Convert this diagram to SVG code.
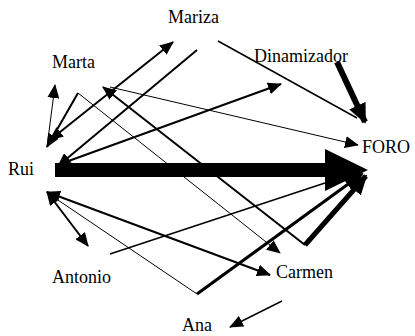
<svg xmlns="http://www.w3.org/2000/svg" width="415" height="336" viewBox="0 0 415 336">
<defs>
<style>
line{stroke:#000;fill:none}
.t1{stroke-width:1}
.t15{stroke-width:1.5}
.t2{stroke-width:2}
.t3{stroke-width:3}
.t5{stroke-width:5}
.t6{stroke-width:6}
.e{marker-end:url(#a)}
.b{marker-start:url(#a);marker-end:url(#a)}
.m{marker-end:url(#m)}
</style>
<marker id="a" viewBox="0 0 14 12" refX="13" refY="6" markerWidth="14" markerHeight="12" markerUnits="userSpaceOnUse" orient="auto-start-reverse">
<path d="M0,0 L14,6 L0,12 z" fill="#000"/>
</marker>
<marker id="m" viewBox="0 0 20 18" refX="18" refY="9" markerWidth="20" markerHeight="18" markerUnits="userSpaceOnUse" orient="auto">
<path d="M0,0 L20,9 L0,18 z" fill="#000"/>
</marker>
</defs>
<rect width="415" height="336" fill="#fff"/>
<g id="connectors">
<polygon points="55,163 325,163 325,149 368,170 325,191 325,177 55,177" fill="#000"/>
<line class="t6 m" x1="337" y1="62" x2="365" y2="122"/>
<line class="t15" x1="218" y1="41" x2="357" y2="118"/>
<line class="t2 e" x1="197" y1="50" x2="58" y2="166"/>
<line class="t2 b" x1="50" y1="140" x2="173" y2="42"/>
<line class="t1 e" x1="47" y1="147" x2="55" y2="85"/>
<line class="t2 e" x1="78" y1="93" x2="47" y2="147"/>
<line class="t1 e" x1="78" y1="93" x2="280" y2="253"/>
<line class="t2 e" x1="305" y1="245" x2="103" y2="87"/>
<line class="t1 e" x1="110" y1="87" x2="358" y2="145"/>
<line class="t2 e" x1="63" y1="163" x2="281" y2="84"/>
<line class="t5 m" x1="305" y1="245" x2="366" y2="176"/>
<line class="t3 m" x1="197" y1="294" x2="362" y2="174"/>
<line class="t15" x1="110" y1="254" x2="325" y2="183"/>
<line class="t1" x1="197" y1="294" x2="55" y2="198"/>
<line class="t2 b" x1="47" y1="192" x2="270" y2="275"/>
<line class="t2 b" x1="47" y1="192" x2="88" y2="246"/>
<line class="t15 e" x1="282" y1="301" x2="230" y2="327"/>
</g>
<g font-family="'Liberation Serif', 'DejaVu Serif', serif" font-size="18" fill="#000">
<g id="mariza"><text x="168" y="23">Mariza</text></g>
<g id="marta"><text x="52" y="68">Marta</text></g>
<g id="dinamizador"><text x="254" y="62">Dinamizador</text></g>
<g id="foro"><text x="362" y="153">FORO</text></g>
<g id="rui"><text x="8" y="175">Rui</text></g>
<g id="antonio"><text x="52" y="283">Antonio</text></g>
<g id="carmen"><text x="276" y="278">Carmen</text></g>
<g id="ana"><text x="182" y="331">Ana</text></g>
</g>
</svg>
